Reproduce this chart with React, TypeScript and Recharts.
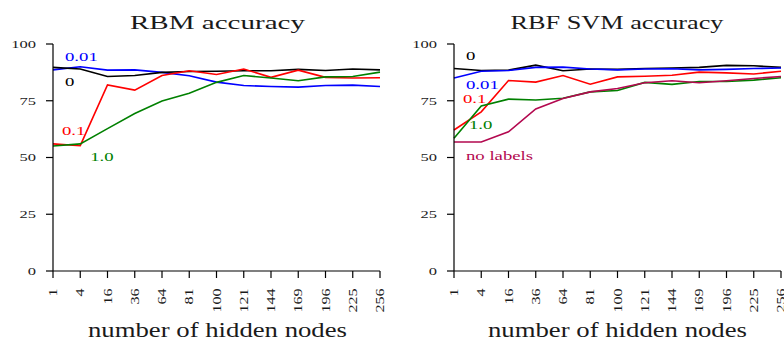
import React from 'react';
import { LineChart, Line, XAxis, YAxis, ReferenceDot } from 'recharts';

// hidden node counts on the x axis
const nodes = ['1', '4', '16', '36', '64', '81', '100', '121', '144', '169', '196', '225', '256'];
const yTicks = [0, 25, 50, 75, 100];

// RBM accuracy, one array per label fraction
const rbm0 = [89.7, 89.0, 85.7, 86.1, 87.5, 87.9, 88.0, 88.2, 88.2, 88.8, 88.3, 89.0, 88.6];
const rbm001 = [88.6, 90.0, 88.5, 88.6, 87.5, 86.0, 83.2, 81.7, 81.3, 81.0, 81.7, 81.9, 81.3];
const rbm01 = [56.0, 55.2, 82.0, 79.7, 86.1, 88.2, 86.6, 89.0, 85.3, 88.5, 85.3, 85.0, 85.1];
const rbm10 = [55.1, 56.0, 62.7, 69.4, 74.9, 78.3, 83.1, 86.1, 85.0, 83.8, 85.5, 85.7, 87.6];

// RBF SVM accuracy
const svm0 = [89.2, 88.3, 88.5, 90.7, 88.2, 89.0, 88.8, 89.2, 89.4, 89.7, 90.6, 90.4, 89.7];
const svm001 = [85.0, 88.0, 88.3, 89.7, 89.8, 89.0, 88.6, 89.0, 89.1, 88.6, 88.8, 89.2, 89.4];
const svm01 = [62.1, 70.1, 83.9, 83.2, 86.1, 82.3, 85.5, 85.8, 86.2, 87.6, 87.3, 86.8, 88.0];
const svm10 = [58.5, 72.7, 75.7, 75.3, 76.1, 78.9, 79.5, 83.1, 82.2, 83.5, 83.5, 84.1, 85.1];
const svmNoLabels = [56.8, 56.8, 61.3, 71.4, 76.0, 78.9, 80.4, 82.9, 83.8, 82.9, 83.8, 84.8, 85.7];

const SERIF = '"Liberation Serif", "Times New Roman", serif';
const INK = '#1a1a1a';
// the original figure is stretched horizontally
const SX = 1.5;

const BLACK = '#000000';
const BLUE = '#0000ff';
const RED = '#ff0000';
const GREEN = '#008000';
const CRIMSON = '#b3084f';

type Series = { key: string; color: string; values: number[] };
type Anno = { text: string; color: string; at: string; y: number; dx: number };

function buildRows(series: Series[]) {
  return nodes.map((n, i) => {
    const row: Record<string, any> = { nodes: n };
    series.forEach((s) => (row[s.key] = s.values[i]));
    return row;
  });
}

const rbmSeries: Series[] = [
  { key: 'l001', color: BLUE, values: rbm001 },
  { key: 'l0', color: BLACK, values: rbm0 },
  { key: 'l01', color: RED, values: rbm01 },
  { key: 'l10', color: GREEN, values: rbm10 },
];

const svmSeries: Series[] = [
  { key: 'l0', color: BLACK, values: svm0 },
  { key: 'l001', color: BLUE, values: svm001 },
  { key: 'l01', color: RED, values: svm01 },
  { key: 'l10', color: GREEN, values: svm10 },
  { key: 'none', color: CRIMSON, values: svmNoLabels },
];

const rbmAnnos: Anno[] = [
  { text: '0.01', color: BLUE, at: '1', y: 92.3, dx: 12 },
  { text: '0', color: BLACK, at: '1', y: 81.6, dx: 12 },
  { text: '0.1', color: RED, at: '1', y: 60.0, dx: 9 },
  { text: '1.0', color: GREEN, at: '4', y: 48.5, dx: 10 },
];

const svmAnnos: Anno[] = [
  { text: '0', color: BLACK, at: '1', y: 93.1, dx: 12 },
  { text: '0.01', color: BLUE, at: '1', y: 80.3, dx: 12 },
  { text: '0.1', color: RED, at: '1', y: 74.2, dx: 9 },
  { text: '1.0', color: GREEN, at: '1', y: 62.6, dx: 15 },
  { text: 'no labels', color: CRIMSON, at: '1', y: 48.9, dx: 12 },
];

const XTick = (p: any) => (
  <text
    transform={`translate(${p.x} ${p.y}) rotate(-90) scale(1 0.72)`}
    textAnchor="end"
    dy="0.35em"
    fontSize={16}
    fontFamily={SERIF}
    fill={INK}
  >
    {p.payload.value}
  </text>
);

const YTick = (p: any) => (
  <text
    transform={`translate(${p.x} ${p.y}) scale(${SX} 1)`}
    textAnchor="end"
    dy="0.35em"
    fontSize={11}
    fontFamily={SERIF}
    fill={INK}
  >
    {p.payload.value}
  </text>
);

function Panel({ series, annos, marginLeft, marginRight }: { series: Series[]; annos: Anno[]; marginLeft: number; marginRight: number }) {
  const rows = buildRows(series);
  const axisStyle = { stroke: '#000', strokeWidth: 1.2 };
  return (
    <LineChart width={392} height={345} data={rows} margin={{ top: 44, right: marginRight, bottom: 0, left: marginLeft }}>
      <XAxis
        dataKey="nodes"
        type="category"
        scale="point"
        interval={0}
        padding={{ left: 0, right: 0 }}
        height={74}
        tickSize={7}
        tickMargin={10.5}
        axisLine={axisStyle}
        tickLine={axisStyle}
        tick={(p: any) => <XTick {...p} />}
      />
      <YAxis
        type="number"
        domain={[0, 100]}
        ticks={yTicks}
        interval={0}
        width={45}
        tickSize={7}
        tickMargin={10}
        axisLine={axisStyle}
        tickLine={axisStyle}
        tick={(p: any) => <YTick {...p} />}
      />
      {series.map((s) => (
        <Line
          key={s.key}
          type="linear"
          dataKey={s.key}
          stroke={s.color}
          strokeWidth={1.6}
          dot={false}
          activeDot={false}
          isAnimationActive={false}
        />
      ))}
      {annos.map((a) => (
        <ReferenceDot
          key={a.text}
          x={a.at}
          y={a.y}
          r={0}
          fill="none"
          stroke="none"
          label={(lp: any) => (
            <text
              transform={`translate(${lp.viewBox.x + a.dx} ${lp.viewBox.y}) scale(${SX} 1)`}
              fontSize={12.5}
              fontFamily={SERIF}
              fill={a.color}
            >
              {a.text}
            </text>
          )}
        />
      ))}
    </LineChart>
  );
}

export default function App() {
  return (
    <div style={{ position: 'absolute', left: 0, top: 0, width: 784, height: 345, background: '#fff', overflow: 'hidden' }}>
      <div style={{ position: 'absolute', left: 0, top: 0 }}>
        <Panel series={rbmSeries} annos={rbmAnnos} marginLeft={8} marginRight={12} />
      </div>
      <div style={{ position: 'absolute', left: 392, top: 0 }}>
        <Panel series={svmSeries} annos={svmAnnos} marginLeft={17} marginRight={3} />
      </div>
      <svg width={784} height={345} style={{ position: 'absolute', left: 0, top: 0, pointerEvents: 'none' }}>
        <g fontFamily={SERIF} fill={INK} textAnchor="middle">
          <text x={217.5} y={29} fontSize={19.5} textLength={175} lengthAdjust="spacingAndGlyphs">RBM accuracy</text>
          <text x={617} y={29} fontSize={19.5} textLength={213} lengthAdjust="spacingAndGlyphs">RBF SVM accuracy</text>
          <text x={217.5} y={337} fontSize={20.5} textLength={259} lengthAdjust="spacingAndGlyphs">number of hidden nodes</text>
          <text x={617.5} y={337} fontSize={20.5} textLength={259} lengthAdjust="spacingAndGlyphs">number of hidden nodes</text>
        </g>
      </svg>
    </div>
  );
}
